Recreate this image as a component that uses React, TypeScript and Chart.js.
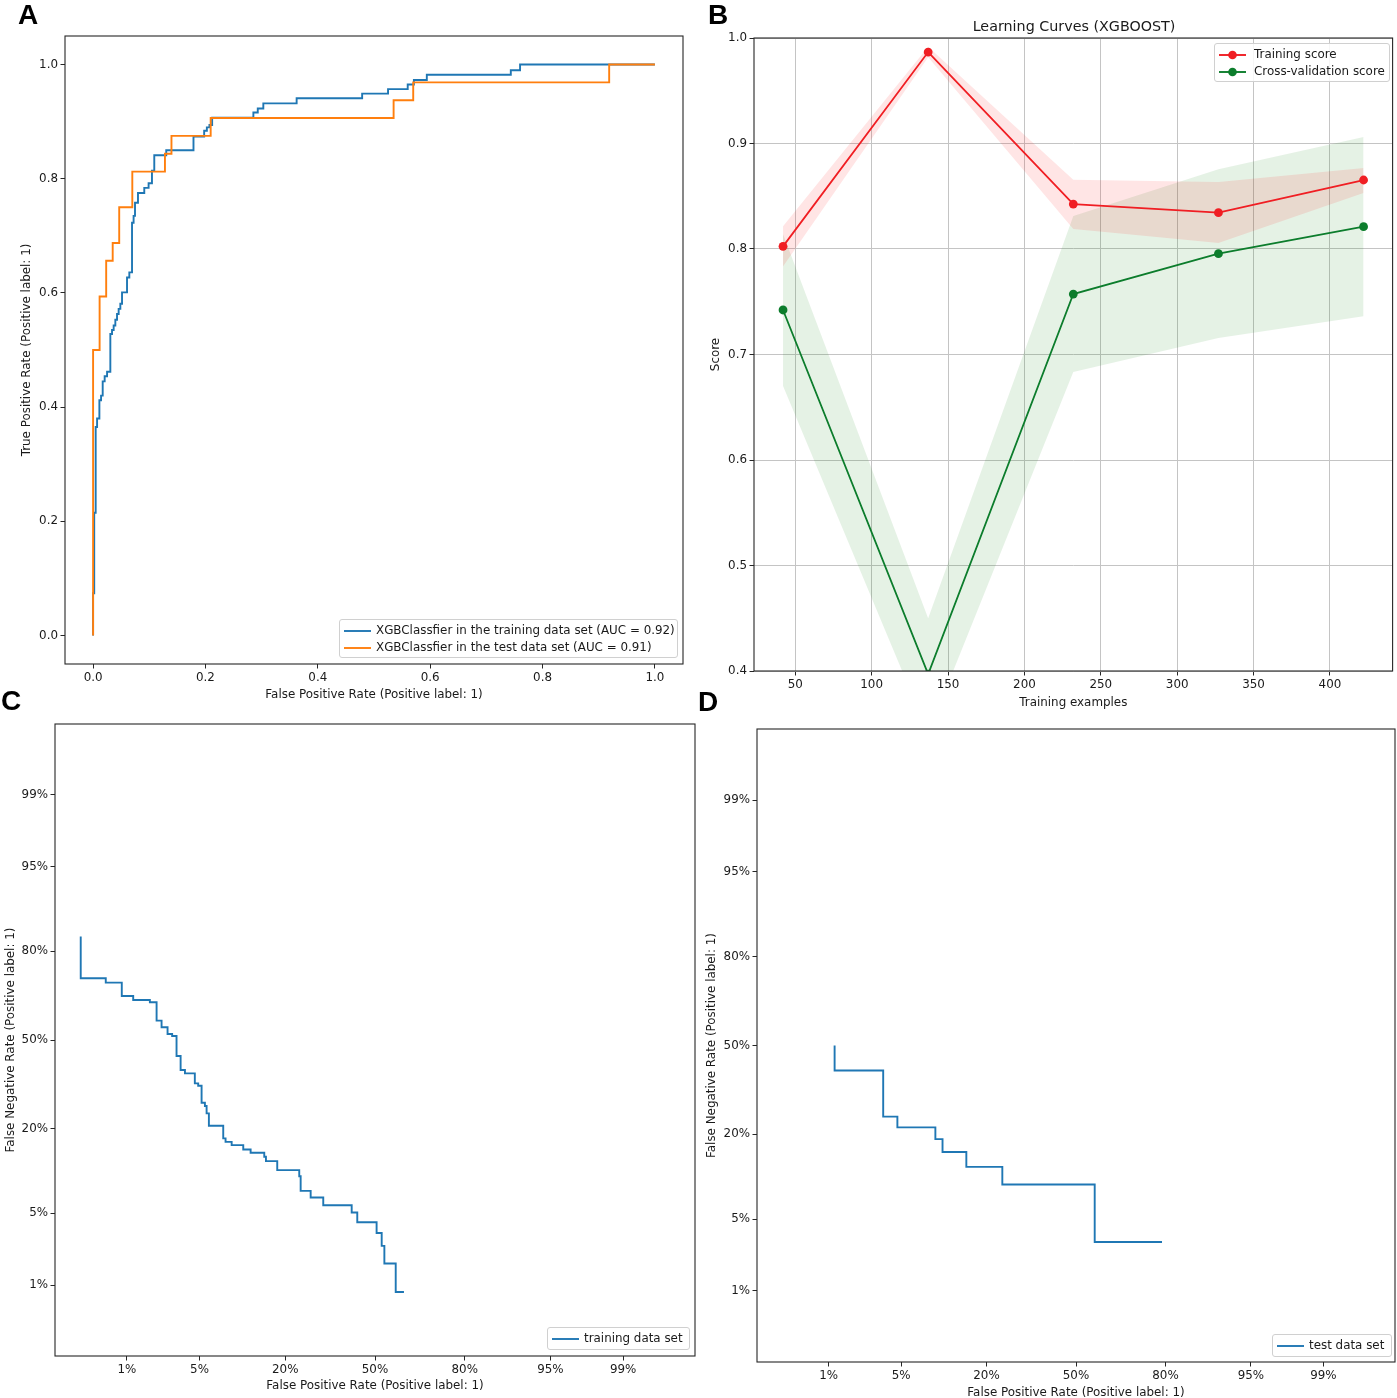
import React, { useEffect, useRef } from "react";
import { Chart, registerables } from "chart.js";

Chart.register(...registerables);

// ---------------- Panel A: ROC curves ----------------
const ROC_TRAIN_FPR = [0, 0, 0.002, 0.0046, 0.0071, 0.0112, 0.0142, 0.0171, 0.0206, 0.0249, 0.0307, 0.0337, 0.0366, 0.0396, 0.0426, 0.0455, 0.0485, 0.0515, 0.0604, 0.0645, 0.0693, 0.0721, 0.0746, 0.0799, 0.0911, 0.0988, 0.1048, 0.1089, 0.1302, 0.1787, 0.1977, 0.2025, 0.2071, 0.2119, 0.2853, 0.2931, 0.303, 0.3623, 0.4789, 0.525, 0.56, 0.571, 0.594, 0.7435, 0.76, 1.0];
const ROC_TRAIN_TPR = [0, 0.074, 0.215, 0.365, 0.38, 0.412, 0.42, 0.445, 0.454, 0.462, 0.528, 0.535, 0.543, 0.553, 0.563, 0.572, 0.581, 0.601, 0.627, 0.636, 0.723, 0.735, 0.758, 0.775, 0.784, 0.792, 0.814, 0.841, 0.85, 0.874, 0.884, 0.89, 0.894, 0.907, 0.916, 0.923, 0.932, 0.941, 0.949, 0.957, 0.965, 0.973, 0.982, 0.99, 1.0, 1.0];
const ROC_TEST_FPR = [0, 0, 0.0116, 0.0233, 0.0349, 0.0465, 0.0698, 0.1279, 0.1395, 0.2093, 0.5349, 0.5698, 0.9186, 1.0];
const ROC_TEST_TPR = [0, 0.5, 0.59375, 0.65625, 0.6875, 0.75, 0.8125, 0.84375, 0.875, 0.90625, 0.9375, 0.96875, 1.0, 1.0];
const ROC_TICKS = [0, 0.2, 0.4, 0.6, 0.8, 1.0];
const ROC_LABELS = ["XGBClassfier in the training data set (AUC = 0.92)", "XGBClassfier in the test data set (AUC = 0.91)"];

// ---------------- Panel B: learning curves ----------------
const LC_SIZES = [42, 137, 232, 327, 422];
const LC_TRAIN_MEAN = [0.8025, 0.9867, 0.8426, 0.8344, 0.8654];
const LC_TRAIN_UPPER = [0.8215, 0.9917, 0.8657, 0.8635, 0.8768];
const LC_TRAIN_LOWER = [0.7835, 0.9817, 0.819, 0.8057, 0.8531];
const LC_CV_MEAN = [0.7422, 0.397, 0.7573, 0.7956, 0.8212];
const LC_CV_UPPER = [0.8142, 0.45, 0.8313, 0.8756, 0.9062];
const LC_CV_LOWER = [0.6702, 0.341, 0.6833, 0.7156, 0.7362];
const LC_X_TICKS = [50, 100, 150, 200, 250, 300, 350, 400];
const LC_Y_TICKS = [0.4, 0.5, 0.6, 0.7, 0.8, 0.9, 1.0];

// ---------------- Panels C / D: DET curves ----------------
const DET_TRAIN_FPR = [0.0029, 0.0029, 0.0058, 0.0088, 0.0117, 0.0174, 0.0203, 0.0227, 0.0259, 0.0286, 0.0314, 0.0342, 0.0374, 0.0456, 0.0487, 0.052, 0.0554, 0.0572, 0.0597, 0.0774, 0.0806, 0.0895, 0.1084, 0.1218, 0.1496, 0.1533, 0.1797, 0.2388, 0.2429, 0.2732, 0.3138, 0.4135, 0.434, 0.506, 0.525, 0.535, 0.577, 0.607];
const DET_TRAIN_FNR = [0.837, 0.7212, 0.707, 0.662, 0.648, 0.64, 0.5728, 0.548, 0.5227, 0.515, 0.4396, 0.3878, 0.3758, 0.3403, 0.332, 0.2756, 0.2653, 0.243, 0.2077, 0.1751, 0.1668, 0.1591, 0.1494, 0.1421, 0.1337, 0.1251, 0.1083, 0.098, 0.076, 0.0674, 0.0584, 0.0507, 0.0418, 0.0335, 0.0253, 0.0169, 0.00836, 0.00836];
const DET_TEST_FPR = [0.0116, 0.0116, 0.0349, 0.0465, 0.093, 0.1047, 0.1512, 0.2442, 0.5698, 0.7907];
const DET_TEST_FNR = [0.5, 0.40625, 0.25, 0.21875, 0.1875, 0.15625, 0.125, 0.09375, 0.03125, 0.03125];
const DET_TICK_PROBS = [0.01, 0.05, 0.2, 0.5, 0.8, 0.95, 0.99];
const DET_TICK_LABELS = ["1%", "5%", "20%", "50%", "80%", "95%", "99%"];

// ---------------- styling ----------------
const FONT = "'DejaVu Sans', 'Noto Sans', sans-serif";
const TEXT = "#1a1a1a";
const FS = 11.9;
const BLUE = "#1f77b4";
const ORANGE = "#ff7f0e";
const RED = "#f01e23";
const GREEN = "#0c7d2c";

// inverse standard normal CDF (probit) — the DET axis transform
function ppf(p: number): number {
  const a = [-3.969683028665376e1, 2.209460984245205e2, -2.759285104469687e2, 1.38357751867269e2, -3.066479806614716e1, 2.506628277459239];
  const b = [-5.447609879822406e1, 1.615858368580409e2, -1.556989798598866e2, 6.680131188771972e1, -1.328068155288572e1];
  const c = [-7.784894002430293e-3, -3.223964580411365e-1, -2.400758277161838, -2.549732539343734, 4.374664141464968, 2.938163982698783];
  const d = [7.784695709041462e-3, 3.224671290700398e-1, 2.445134137142996, 3.754408661907416];
  const pl = 0.02425;
  if (p < pl) {
    const q = Math.sqrt(-2 * Math.log(p));
    return (((((c[0] * q + c[1]) * q + c[2]) * q + c[3]) * q + c[4]) * q + c[5]) / ((((d[0] * q + d[1]) * q + d[2]) * q + d[3]) * q + 1);
  }
  if (p <= 1 - pl) {
    const q = p - 0.5;
    const r = q * q;
    return ((((((a[0] * r + a[1]) * r + a[2]) * r + a[3]) * r + a[4]) * r + a[5]) * q) / (((((b[0] * r + b[1]) * r + b[2]) * r + b[3]) * r + b[4]) * r + 1);
  }
  const q = Math.sqrt(-2 * Math.log(1 - p));
  return -(((((c[0] * q + c[1]) * q + c[2]) * q + c[3]) * q + c[4]) * q + c[5]) / ((((d[0] * q + d[1]) * q + d[2]) * q + d[3]) * q + 1);
}

type Box = { left: number; top: number; width: number; height: number };
type Area = { left: number; top: number; right: number; bottom: number };

const framePlugin = {
  id: "frame",
  afterDatasetsDraw(chart: any) {
    const { ctx, chartArea } = chart;
    ctx.save();
    ctx.strokeStyle = "#262626";
    ctx.lineWidth = 1.1;
    ctx.strokeRect(chartArea.left, chartArea.top, chartArea.right - chartArea.left, chartArea.bottom - chartArea.top);
    ctx.restore();
  },
};

function axisBase(opts: {
  horizontal: boolean;
  size: number;
  min: number;
  max: number;
  ticks: number[];
  label: (v: number, i: number) => string;
  title: string;
  titlePad: number;
  grid: boolean;
}) {
  return {
    type: "linear",
    position: opts.horizontal ? "bottom" : "left",
    min: opts.min,
    max: opts.max,
    afterBuildTicks: (scale: any) => {
      scale.ticks = opts.ticks.map((v) => ({ value: v }));
    },
    afterFit: (scale: any) => {
      if (opts.horizontal) scale.height = opts.size;
      else scale.width = opts.size;
    },
    border: { display: false },
    grid: {
      display: true,
      drawOnChartArea: opts.grid,
      color: "#c4c4c4",
      lineWidth: 1,
      tickColor: "#262626",
      tickLength: 4.5,
      tickWidth: 1,
    },
    ticks: {
      color: TEXT,
      font: { family: FONT, size: FS },
      padding: 2.5,
      maxRotation: 0,
      autoSkip: false,
      callback: (v: any, i: number) => opts.label(Number(v), i),
    },
    title: {
      display: true,
      text: opts.title,
      color: TEXT,
      font: { family: FONT, size: FS },
      padding: opts.horizontal ? { top: 0, bottom: opts.titlePad } : { top: opts.titlePad, bottom: 0 },
    },
  };
}

function baseOptions(box: Box, area: Area) {
  return {
    responsive: true,
    maintainAspectRatio: false,
    animation: false,
    events: [],
    layout: {
      padding: {
        left: 0,
        top: area.top - box.top,
        right: box.left + box.width - area.right,
        bottom: 0,
      },
    },
    plugins: { legend: { display: false }, tooltip: { enabled: false }, title: { display: false } },
  };
}

function ChartBox({ box, make }: { box: Box; make: () => any }) {
  const ref = useRef<HTMLCanvasElement>(null);
  useEffect(() => {
    const chart = new Chart(ref.current as HTMLCanvasElement, make());
    return () => chart.destroy();
  }, []);
  return (
    <div style={{ position: "absolute", left: box.left, top: box.top, width: box.width, height: box.height }}>
      <canvas ref={ref} />
    </div>
  );
}

// ---------------- panel configs ----------------
const BOX_A: Box = { left: 0, top: 0, width: 700, height: 705 };
const AREA_A: Area = { left: 65, top: 36, right: 683, bottom: 664 };
const BOX_B: Box = { left: 700, top: 0, width: 697, height: 712 };
const AREA_B: Area = { left: 754, top: 38, right: 1394, bottom: 671 };
const BOX_C: Box = { left: 0, top: 712, width: 700, height: 686 };
const AREA_C: Area = { left: 55, top: 724, right: 695, bottom: 1356 };
const BOX_D: Box = { left: 700, top: 712, width: 697, height: 686 };
const AREA_D: Area = { left: 757, top: 729, right: 1395, bottom: 1362 };

function makeRoc() {
  // lower "order" is painted last (on top): test curve over training curve
  const line = (xs: number[], ys: number[], color: string, order: number) => ({
    data: xs.map((x, i) => ({ x, y: ys[i] })),
    borderColor: color,
    borderWidth: 1.9,
    pointRadius: 0,
    stepped: "before",
    fill: false,
    order,
  });
  return {
    type: "line",
    data: { datasets: [line(ROC_TRAIN_FPR, ROC_TRAIN_TPR, BLUE, 1), line(ROC_TEST_FPR, ROC_TEST_TPR, ORANGE, 0)] },
    options: {
      ...baseOptions(BOX_A, AREA_A),
      scales: {
        x: axisBase({ horizontal: true, size: BOX_A.top + BOX_A.height - AREA_A.bottom, min: -0.05, max: 1.05, ticks: ROC_TICKS, label: (v) => v.toFixed(1), title: "False Positive Rate (Positive label: 1)", titlePad: 2.9, grid: false }),
        y: axisBase({ horizontal: false, size: AREA_A.left - BOX_A.left, min: -0.05, max: 1.05, ticks: ROC_TICKS, label: (v) => v.toFixed(1), title: "True Positive Rate (Positive label: 1)", titlePad: 19.9, grid: false }),
      },
    },
    plugins: [framePlugin],
  };
}

function makeLearning() {
  const band = (ys: number[], fillColor: string | false) => ({
    data: LC_SIZES.map((x, i) => ({ x, y: ys[i] })),
    borderWidth: 0,
    borderColor: "rgba(0,0,0,0)",
    backgroundColor: fillColor || "rgba(0,0,0,0)",
    pointRadius: 0,
    fill: fillColor ? "-1" : false,
    order: 5,
  });
  const line = (ys: number[], color: string, order: number) => ({
    data: LC_SIZES.map((x, i) => ({ x, y: ys[i] })),
    borderColor: color,
    borderWidth: 1.8,
    pointRadius: 4.4,
    pointBackgroundColor: color,
    pointBorderColor: color,
    pointBorderWidth: 0,
    fill: false,
    order,
  });
  return {
    type: "line",
    data: {
      datasets: [
        band(LC_TRAIN_UPPER, false),
        band(LC_TRAIN_LOWER, "rgba(255,0,0,0.1)"),
        band(LC_CV_UPPER, false),
        band(LC_CV_LOWER, "rgba(0,128,0,0.1)"),
        line(LC_TRAIN_MEAN, RED, 1),
        line(LC_CV_MEAN, GREEN, 0),
      ],
    },
    options: {
      ...baseOptions(BOX_B, AREA_B),
      scales: {
        x: axisBase({ horizontal: true, size: BOX_B.top + BOX_B.height - AREA_B.bottom, min: 23, max: 441, ticks: LC_X_TICKS, label: (v) => String(v), title: "Training examples", titlePad: 1.9, grid: true }),
        y: axisBase({ horizontal: false, size: AREA_B.left - BOX_B.left, min: 0.4, max: 1.0, ticks: LC_Y_TICKS, label: (v) => v.toFixed(1), title: "Score", titlePad: 8.9, grid: true }),
      },
    },
    plugins: [framePlugin],
  };
}

function makeDet(box: Box, area: Area, fpr: number[], fnr: number[], xPad: number, yPad: number) {
  const tickVals = DET_TICK_PROBS.map((p) => ppf(p));
  return {
    type: "line",
    data: {
      datasets: [
        {
          data: fpr.map((f, i) => ({ x: ppf(f), y: ppf(fnr[i]) })),
          borderColor: BLUE,
          borderWidth: 1.9,
          pointRadius: 0,
          stepped: "before",
          fill: false,
        },
      ],
    },
    options: {
      ...baseOptions(box, area),
      scales: {
        x: axisBase({ horizontal: true, size: box.top + box.height - area.bottom, min: -3, max: 3, ticks: tickVals, label: (_v, i) => DET_TICK_LABELS[i], title: "False Positive Rate (Positive label: 1)", titlePad: xPad, grid: false }),
        y: axisBase({ horizontal: false, size: area.left - box.left, min: -3, max: 3, ticks: tickVals, label: (_v, i) => DET_TICK_LABELS[i], title: "False Negative Rate (Positive label: 1)", titlePad: yPad, grid: false }),
      },
    },
    plugins: [framePlugin],
  };
}

// ---------------- HTML legends / labels ----------------
type LegendRow = { label: string; color: string; marker?: boolean };

function Legend({ left, top, width, height, rows }: { left: number; top: number; width: number; height: number; rows: LegendRow[] }) {
  return (
    <div
      style={{
        position: "absolute",
        left,
        top,
        width,
        height,
        boxSizing: "border-box",
        border: "1px solid #d0d0d0",
        borderRadius: 3,
        background: "rgba(255,255,255,0.85)",
        fontFamily: FONT,
        fontSize: FS,
        color: TEXT,
      }}
    >
      {rows.map((r, i) => (
        <div key={i} style={{ position: "absolute", left: 3, top: 2 + i * 17, height: 17, display: "flex", alignItems: "center", whiteSpace: "nowrap" }}>
          <svg width={28} height={12} style={{ display: "block" }}>
            <line x1={1} y1={6} x2={28} y2={6} stroke={r.color} strokeWidth={1.9} />
            {r.marker ? <circle cx={14.5} cy={6} r={4.3} fill={r.color} /> : null}
          </svg>
          <span style={{ marginLeft: r.marker ? 8 : 5, lineHeight: "17px" }}>{r.label}</span>
        </div>
      ))}
    </div>
  );
}

function Letter({ text, left, top }: { text: string; left: number; top: number }) {
  return (
    <div style={{ position: "absolute", left, top, fontFamily: "'Liberation Sans', Arial, sans-serif", fontWeight: 700, fontSize: 28, lineHeight: "28px", color: "#000" }}>
      {text}
    </div>
  );
}

export default function App() {
  return (
    <div style={{ position: "absolute", left: 0, top: 0, width: 1397, height: 1398, overflow: "hidden", background: "#fff" }}>
      <ChartBox box={BOX_A} make={makeRoc} />
      <ChartBox box={BOX_B} make={makeLearning} />
      <ChartBox box={BOX_C} make={() => makeDet(BOX_C, AREA_C, DET_TRAIN_FPR, DET_TRAIN_FNR, 4.9, 3.9)} />
      <ChartBox box={BOX_D} make={() => makeDet(BOX_D, AREA_D, DET_TEST_FPR, DET_TEST_FNR, -2, 4.9)} />

      <div style={{ position: "absolute", left: 1074, top: 17, transform: "translateX(-50%)", fontFamily: FONT, fontSize: 14.3, lineHeight: "18px", color: TEXT, whiteSpace: "nowrap" }}>
        Learning Curves (XGBOOST)
      </div>

      <Legend left={339} top={619} width={339} height={39} rows={[{ label: ROC_LABELS[0], color: BLUE }, { label: ROC_LABELS[1], color: ORANGE }]} />
      <Legend left={1214} top={43} width={176} height={39} rows={[{ label: "Training score", color: RED, marker: true }, { label: "Cross-validation score", color: GREEN, marker: true }]} />
      <Legend left={547} top={1327} width={143} height={23} rows={[{ label: "training data set", color: BLUE }]} />
      <Legend left={1272} top={1334} width={120} height={23} rows={[{ label: "test data set", color: BLUE }]} />

      <Letter text="A" left={18} top={1} />
      <Letter text="B" left={708} top={1} />
      <Letter text="C" left={1} top={687} />
      <Letter text="D" left={698} top={688} />
    </div>
  );
}
